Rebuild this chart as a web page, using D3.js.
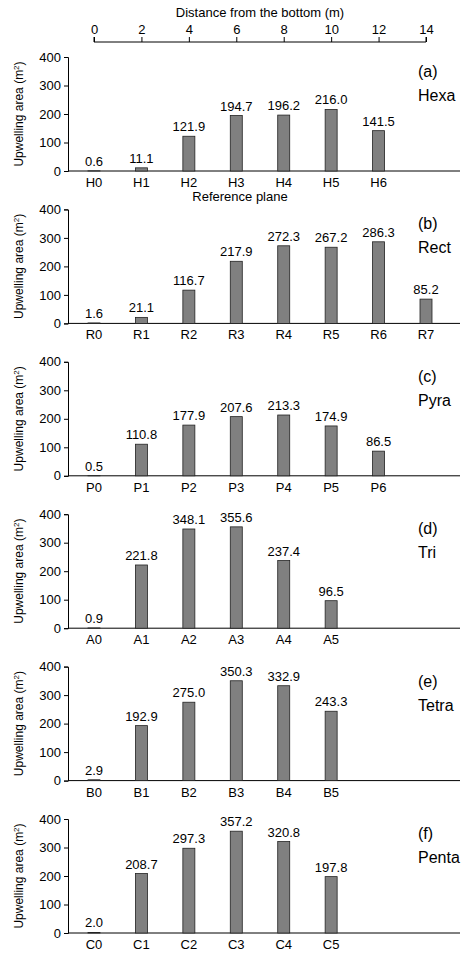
<!DOCTYPE html>
<html><head><meta charset="utf-8">
<script src="https://cdn.jsdelivr.net/npm/d3@7"></script>
<style>body{margin:0;background:#fff}text{font-family:Arial,"Liberation Sans",sans-serif;fill:#000}</style>
</head><body><svg id="c" width="476" height="964"></svg>
<script>
const panelLetters=["(a)","(b)","(c)","(d)","(e)","(f)"];
const panelNames=["Hexa","Rect","Pyra","Tri","Tetra","Penta"];
const prefixes=["H","R","P","A","B","C"];
const vals=[
 [0.6,11.1,121.9,194.7,196.2,216.0,141.5],
 [1.6,21.1,116.7,217.9,272.3,267.2,286.3,85.2],
 [0.5,110.8,177.9,207.6,213.3,174.9,86.5],
 [0.9,221.8,348.1,355.6,237.4,96.5],
 [2.9,192.9,275.0,350.3,332.9,243.3],
 [2.0,208.7,297.3,357.2,320.8,197.8]];
const distTicks=[0,2,4,6,8,10,12,14];
const yTicks=[0,100,200,300,400];
const svg=d3.select("#c");
const x=d3.scaleLinear().domain([0,14]).range([94,426]);
const xl=68,xr=460;
const topAx=svg.append("g").attr("transform","translate(0,42)");
topAx.call(d3.axisTop(x).tickValues(distTicks).tickSize(5).tickPadding(3)).call(g=>{g.select(".domain").attr("d","M94,-5V0H426V-5").attr("stroke","#000");g.selectAll("text").attr("font-size",13).style("font-family","Arial")});
svg.append("text").attr("x",260).attr("y",17).attr("text-anchor","middle").attr("font-size",13).text("Distance from the bottom (m)");
const bw=12;
vals.forEach((v,i)=>{
 const y0=171+i*152.4;
 const y=d3.scaleLinear().domain([0,400]).range([y0,y0-114]);
 const g=svg.append("g");
 g.append("g").attr("transform",`translate(${xl},0)`).call(d3.axisLeft(y).tickValues(yTicks).tickSize(4).tickPadding(3)).call(a=>{a.select(".domain").attr("stroke","#000");a.selectAll("text").attr("font-size",13).style("font-family","Arial")});
 g.append("line").attr("x1",xl).attr("x2",xr).attr("y1",y0).attr("y2",y0).attr("stroke","#000");
 v.forEach((d,j)=>{
  const cx=x(j*2);
  g.append("rect").attr("x",cx-bw/2).attr("width",bw).attr("y",y(d)).attr("height",y0-y(d)).attr("fill","#808080").attr("stroke","#222").attr("stroke-width",0.8);
  g.append("text").attr("x",cx).attr("y",y(d)-5).attr("text-anchor","middle").attr("font-size",13).text(d.toFixed(1));
  g.append("text").attr("x",cx).attr("y",y0+16).attr("text-anchor","middle").attr("font-size",13).text(prefixes[i]+j);
 });
 g.append("text").attr("x",418).attr("y",y0-94).attr("font-size",16).text(panelLetters[i]);
 g.append("text").attr("x",418).attr("y",y0-70).attr("font-size",16).text(panelNames[i]);
 const t=g.append("text").attr("transform",`translate(23,${y0-57}) rotate(-90)`).attr("text-anchor","middle").attr("font-size",12);
 t.append("tspan").text("Upwelling area (m");t.append("tspan").attr("baseline-shift","super").attr("font-size",8).text("2");t.append("tspan").text(")");
});
svg.append("text").attr("x",240).attr("y",201).attr("text-anchor","middle").attr("font-size",13).text("Reference plane");
</script></body></html>
